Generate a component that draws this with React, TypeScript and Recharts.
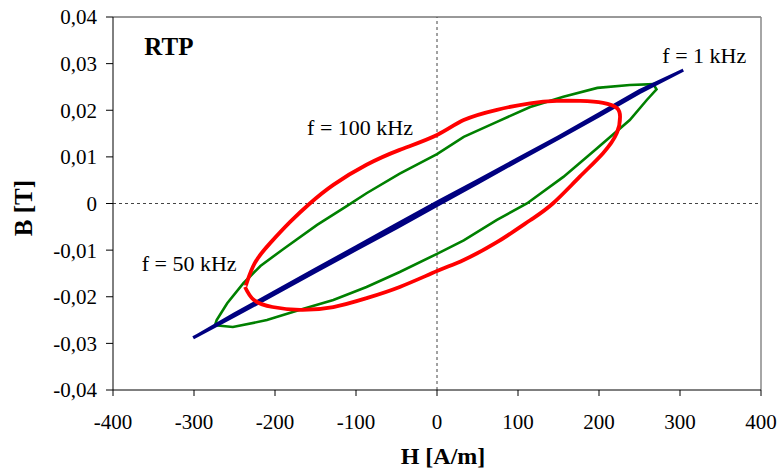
import React from 'react';
import { LineChart, Line, XAxis, YAxis, ReferenceLine, ReferenceDot } from 'recharts';

const blueH = [-301, -250, -200, -150, -100, -50, 0, 50, 100, 150, 200, 250, 304, 250, 200, 150, 100, 50, 0, -50, -100, -150, -200, -250, -301];
const blueB = [-0.0288, -0.0241, -0.0194, -0.0146, -0.0099, -0.0052, -0.0004, 0.0044, 0.0092, 0.014, 0.0188, 0.0238, 0.0286, 0.0242, 0.0192, 0.0143, 0.0096, 0.0049, 0.0003, -0.0045, -0.0093, -0.0141, -0.0189, -0.0237, -0.0288];

const greenH = [-274, -252, -210, -169, -128, -87, -46, 0, 33, 74, 111, 156, 198, 238, 259, 271, 267, 238, 198, 156, 115, 74, 33, 0, -46, -87, -111, -148, -190, -218, -239, -259, -272, -274];
const greenB = [-0.0261, -0.0265, -0.025, -0.0228, -0.0207, -0.0179, -0.0147, -0.0108, -0.0079, -0.0035, 0, 0.0057, 0.0119, 0.0179, 0.0222, 0.0245, 0.0256, 0.0254, 0.0248, 0.0229, 0.0207, 0.0175, 0.0143, 0.0106, 0.0064, 0.0022, -0.0005, -0.0046, -0.0098, -0.0134, -0.0171, -0.0214, -0.025, -0.0261];

const redH = [-237, -226, -203, -169, -128, -87, -46, 0, 33, 74, 115, 143, 176, 205, 222, 226, 222, 205, 177, 148, 115, 74, 33, 0, -46, -87, -128, -157, -181, -206, -225, -235, -237];
const redB = [-0.0179, -0.0207, -0.0222, -0.0228, -0.0222, -0.0203, -0.0179, -0.0145, -0.0121, -0.0083, -0.0036, 0, 0.0057, 0.0108, 0.0151, 0.0186, 0.0205, 0.0216, 0.022, 0.022, 0.0215, 0.0201, 0.0179, 0.0147, 0.0115, 0.0083, 0.004, 0, -0.0039, -0.0085, -0.0128, -0.0171, -0.0179];

const xTicks = [-400, -300, -200, -100, 0, 100, 200, 300, 400];
const yTicks = [-0.04, -0.03, -0.02, -0.01, 0, 0.01, 0.02, 0.03, 0.04];

const annotations = [
  { text: 'RTP', h: -331, b: 0.0338, bold: true, size: 25 },
  { text: 'f = 1 kHz', h: 330, b: 0.0319, bold: false, size: 22 },
  { text: 'f = 100 kHz', h: -95, b: 0.0164, bold: false, size: 22 },
  { text: 'f = 50 kHz', h: -306, b: -0.0128, bold: false, size: 22 },
];

const toPoints = (hs: number[], bs: number[]) => hs.map((h, i) => ({ h, b: bs[i] }));
const blueData = toPoints(blueH, blueB);
const greenData = toPoints(greenH, greenB);
const redData = toPoints(redH, redB);

const FONT = '"Liberation Serif", "Times New Roman", serif';

const fmtY = (v: number) => (v === 0 ? '0' : v.toFixed(2).replace('.', ','));

export default function App() {
  return (
    <div style={{ position: 'absolute', left: 0, top: 0, width: 780, height: 474, background: '#fff' }}>
      <LineChart width={780} height={474} margin={{ top: 17, right: 19, bottom: 0, left: 0 }}>
        <XAxis
          type="number"
          dataKey="h"
          domain={[-400, 400]}
          ticks={xTicks}
          allowDataOverflow
          height={84}
          tickSize={6}
          tickMargin={18}
          stroke="#000"
          tick={{ fill: '#000', fontSize: 21, fontFamily: FONT }}
          tickLine={{ stroke: '#000' }}
          label={{
            content: () => (
              <text x={443} y={464} textAnchor="middle" fontFamily={FONT} fontWeight="bold" fontSize={24} fill="#000">
                H [A/m]
              </text>
            ),
          }}
        />
        <YAxis
          type="number"
          dataKey="b"
          domain={[-0.04, 0.04]}
          ticks={yTicks}
          allowDataOverflow
          width={113}
          tickSize={7}
          tickMargin={9}
          tickFormatter={fmtY}
          stroke="#000"
          tick={{ fill: '#000', fontSize: 21, fontFamily: FONT }}
          tickLine={{ stroke: '#000' }}
          label={{
            content: () => (
              <text
                x={32}
                y={208}
                textAnchor="middle"
                transform="rotate(-90 32 208)"
                fontFamily={FONT}
                fontWeight="bold"
                fontSize={25}
                fill="#000"
              >
                B [T]
              </text>
            ),
          }}
        />
        <ReferenceLine y={0.04} stroke="#333" strokeWidth={1} />
        <ReferenceLine x={400} stroke="#888" strokeWidth={1.5} />
        <ReferenceLine y={0} stroke="#444" strokeDasharray="3 3" />
        <ReferenceLine x={0} stroke="#444" strokeDasharray="3 3" />
        <Line data={greenData} dataKey="b" type="linear" stroke="#008000" strokeWidth={2.6} dot={false} isAnimationActive={false} />
        <Line data={blueData} dataKey="b" type="linear" stroke="#000080" strokeWidth={3.2} dot={false} isAnimationActive={false} />
        <Line data={redData} dataKey="b" type="natural" stroke="#ff0000" strokeWidth={3.8} dot={false} isAnimationActive={false} />
        {annotations.map((a) => (
          <ReferenceDot
            key={a.text}
            x={a.h}
            y={a.b}
            r={0}
            fill="none"
            stroke="none"
            ifOverflow="visible"
            label={{
              value: a.text,
              position: 'center',
              fontSize: a.size,
              fontFamily: FONT,
              fontWeight: a.bold ? 'bold' : 'normal',
              fill: '#000',
            }}
          />
        ))}
      </LineChart>
    </div>
  );
}
